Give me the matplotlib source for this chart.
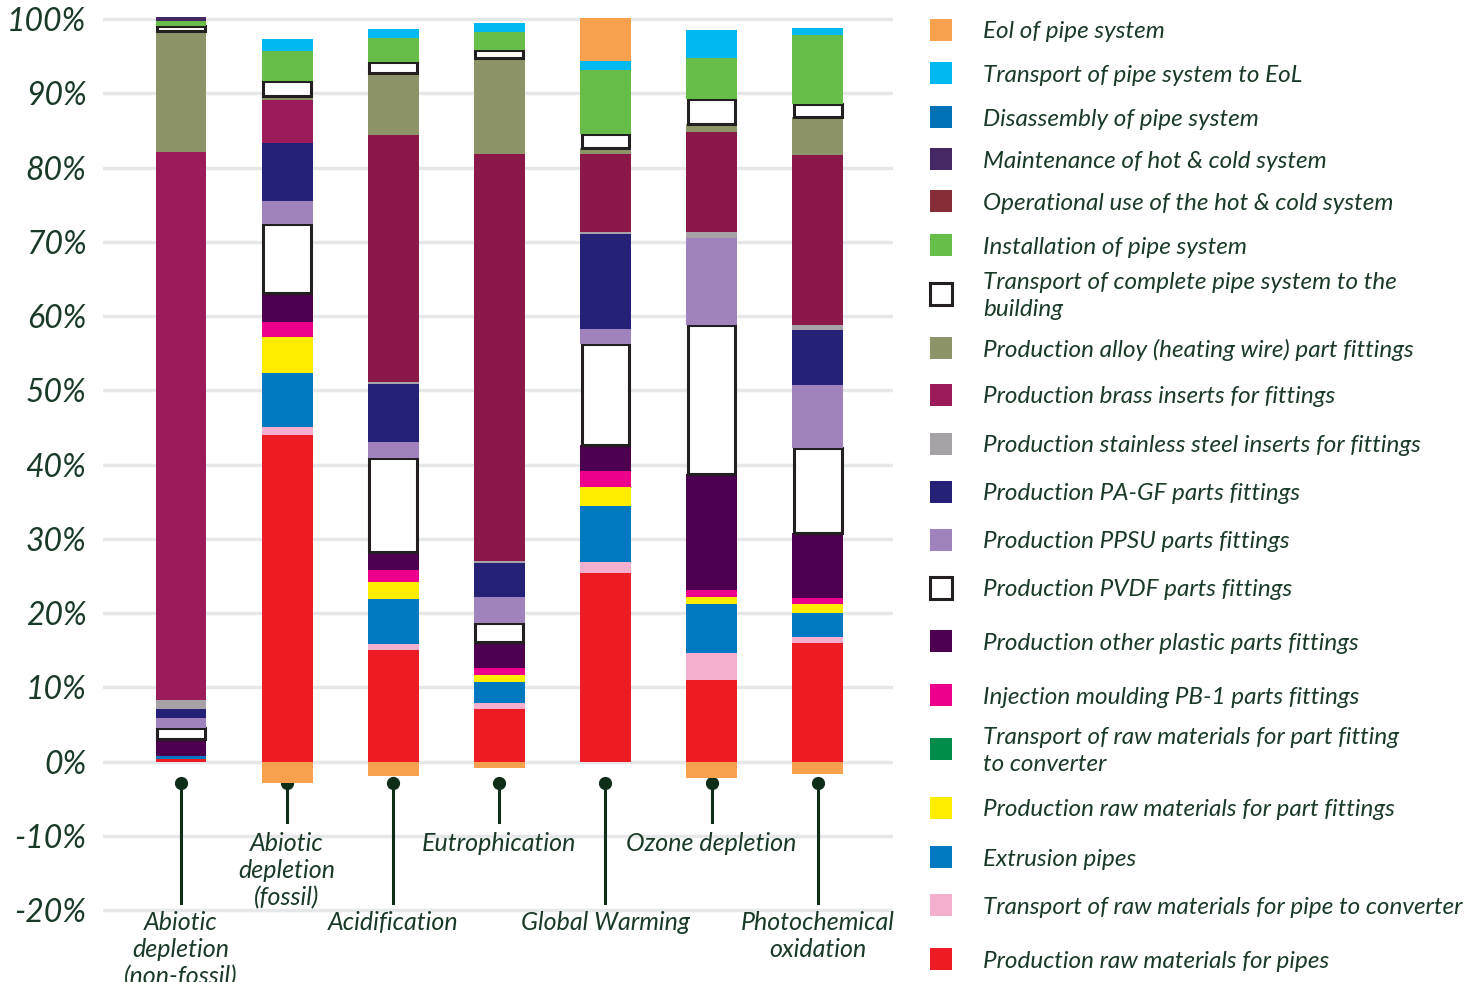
import matplotlib.pyplot as plt
from matplotlib.patches import Rectangle

# impact categories (x axis)
categories = ["Abiotic\ndepletion\n(non-fossil)", "Abiotic\ndepletion\n(fossil)", "Acidification",
              "Eutrophication", "Global Warming", "Ozone depletion", "Photochemical\noxidation"]

# contributions in %, stacked from the bottom up
raw_pipes = [0.4, 44.0, 15.1, 7.1, 25.4, 11.0, 16.0]
transport_raw_pipe = [0.0, 1.1, 0.8, 0.8, 1.5, 3.6, 0.8]
extrusion = [0.4, 7.3, 6.05, 2.8, 7.5, 6.7, 3.2]
raw_fittings = [0.0, 4.85, 2.3, 0.94, 2.55, 0.94, 1.2]
transport_raw_fitting = [0.0, 0.0, 0.0, 0.0, 0.0, 0.0, 0.0]
injection_pb1 = [0.0, 2.0, 1.6, 0.94, 2.15, 0.94, 0.8]
other_plastic = [2.3, 3.8, 2.4, 3.5, 3.5, 15.5, 8.75]
pvdf = [1.5, 9.3, 12.7, 2.55, 13.6, 20.1, 11.5]
ppsu = [1.35, 3.2, 2.15, 3.5, 2.0, 11.8, 8.5]
pa_gf = [1.2, 7.7, 7.7, 4.6, 12.9, 0.0, 7.4]
stainless = [1.1, 0.0, 0.3, 0.27, 0.27, 0.7, 0.7]
brass = [73.9, 5.9, 33.3, 54.8, 10.5, 13.5, 22.8]
alloy = [16.2, 0.5, 8.3, 12.9, 0.8, 1.1, 5.1]
transport_complete = [0.7, 2.0, 1.5, 1.1, 1.9, 3.4, 1.75]
installation = [0.7, 4.0, 3.2, 2.5, 8.6, 5.5, 9.4]
operational = [0.0, 0.0, 0.0, 0.0, 0.0, 0.0, 0.0]
maintenance = [0.5, 0.0, 0.0, 0.0, 0.0, 0.0, 0.0]
disassembly = [0.0, 0.0, 0.0, 0.0, 0.0, 0.0, 0.0]
transport_eol = [0.0, 1.6, 1.2, 1.2, 1.2, 3.8, 0.95]
eol = [0.0, -2.9, -1.9, -0.8, 5.8, -2.2, -1.6]

# (label, values, colour) in stacking order, bottom first
series = [
    ("Production raw materials for pipes", raw_pipes, "#ED1C24"),
    ("Transport of raw materials for pipe to converter", transport_raw_pipe, "#F4AFCE"),
    ("Extrusion pipes", extrusion, "#0079C1"),
    ("Production raw materials for part fittings", raw_fittings, "#FFED00"),
    ("Transport of raw materials for part fitting\nto converter", transport_raw_fitting, "#008C48"),
    ("Injection moulding PB-1 parts fittings", injection_pb1, "#EC008C"),
    ("Production other plastic parts fittings", other_plastic, "#4E0050"),
    ("Production PVDF parts fittings", pvdf, "white"),
    ("Production PPSU parts fittings", ppsu, "#A083BD"),
    ("Production PA-GF parts fittings", pa_gf, "#242177"),
    ("Production stainless steel inserts for fittings", stainless, "#A7A2A8"),
    ("Production brass inserts for fittings", brass, "#9B1B5B"),
    ("Production alloy (heating wire) part fittings", alloy, "#8D9568"),
    ("Transport of complete pipe system to the\nbuilding", transport_complete, "white"),
    ("Installation of pipe system", installation, "#66BD48"),
    ("Operational use of the hot & cold system", operational, "#862D38"),
    ("Maintenance of hot & cold system", maintenance, "#452763"),
    ("Disassembly of pipe system", disassembly, "#0072B5"),
    ("Transport of pipe system to EoL", transport_eol, "#00B9F1"),
    ("Eol of pipe system", eol, "#F7A04D"),
]

txt = "#193A26"
edge = "#231F20"
font = ["Lato", "DejaVu Sans"]
plt.rcParams["font.family"] = font

fig = plt.figure(figsize=(14.82, 9.82), dpi=100)
ax = fig.add_axes([103 / 1482, 1 - 925.1 / 982, 790 / 1482, (925.1 - 11.6) / 982])

x = list(range(len(categories)))
w = 0.48
pos = [0.0] * len(x)
neg = [0.0] * len(x)
for label, vals, col in series:
    boxed = col == "white"
    for i, v in enumerate(vals):
        if v == 0:
            continue
        c = col
        if label.startswith("Production brass") and i >= 2:
            c = "#8A1848"
        if v > 0:
            b = pos[i]
            pos[i] += v
        else:
            b = neg[i]
            neg[i] += v
        if boxed:
            ax.bar(i, v, w - 0.03, bottom=b, color="white", edgecolor=edge, linewidth=2.2, zorder=3)
        else:
            ax.bar(i, v, w, bottom=b, color=c, linewidth=0, zorder=3)

ax.set_xlim(-0.735, 6.71)
ax.set_ylim(-22, 101)
ax.set_yticks(range(-20, 101, 10))
ax.set_yticklabels([f"{t}%" for t in range(-20, 101, 10)], fontsize=23, style="italic", color=txt)
ax.tick_params(axis="y", length=0, pad=12)
ax.set_xticks([])
ax.yaxis.grid(True, color="#E6E7E8", linewidth=2.5)
ax.set_axisbelow(True)
for s in ax.spines.values():
    s.set_visible(False)

# category labels on stems, alternating short / long
for i, name in enumerate(categories):
    low = i % 2 == 0
    end = -19.0 if low else -8.1
    ax.plot([i, i], [-2.87, end], color="#0E2E18", linewidth=2.2, clip_on=False, zorder=2)
    ax.plot(i, -2.87, "o", color="#0E2E18", markersize=8.5, clip_on=False, zorder=2)
    ty = -20.1 if low else -9.47
    ax.text(i, ty, name, ha="center", va="top", fontsize=18, style="italic", color=txt,
            linespacing=1.2, clip_on=False)

# legend, top entry first
legend_y = [30, 73, 117, 159, 201, 245, 294, 348, 395, 444, 492, 540, 588, 641, 695, 749, 808, 857, 905, 959]
for (label, vals, col), yy in zip(series[::-1], legend_y):
    boxed = col == "white"
    fig.patches.append(Rectangle((930 / 1482, 1 - (yy + 11) / 982), 22 / 1482, 22 / 982,
                                 transform=fig.transFigure, facecolor=col,
                                 edgecolor=edge if boxed else "none",
                                 linewidth=2.2 if boxed else 0))
    fig.text(983 / 1482, 1 - (yy + 2) / 982, label, ha="left", va="center", fontsize=17.5,
             style="italic", color=txt, linespacing=1.3)

fig.savefig("out.png", dpi=100)
